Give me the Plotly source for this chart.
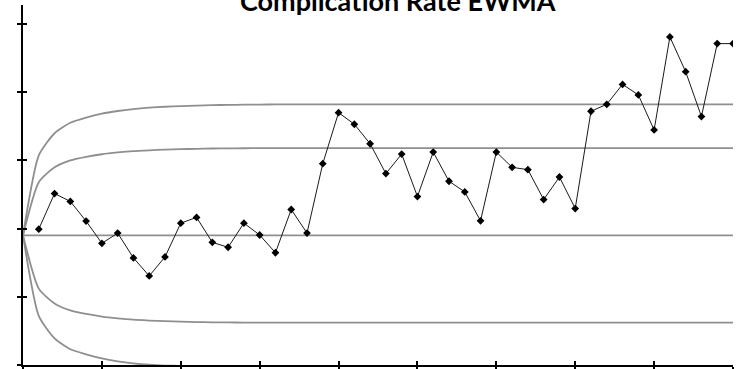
import plotly.graph_objects as go

# Sample index for the EWMA statistic (1..45) and for the control limits (0..45)
samples = list(range(1, 46))
limit_x = list(range(0, 46))

# EWMA of the complication rate (%)
ewma = [9.96, 12.57, 11.99, 10.55, 8.92, 9.67, 7.85, 6.53, 7.92, 10.40,
        10.82, 8.99, 8.63, 10.40, 9.53, 8.23, 11.40, 9.67, 14.76, 18.50,
        17.65, 16.22, 14.03, 15.46, 12.35, 15.61, 13.47, 12.69, 10.57, 15.61,
        14.49, 14.32, 12.13, 13.78, 11.47, 18.60, 19.11, 20.57, 19.80, 17.23,
        24.05, 21.50, 18.21, 23.56, 23.56]

center = [9.5] * 46

# Upper / lower limits (2-sigma and 3-sigma), widening from the start value
ucl3 = [9.50, 15.36, 16.99, 17.76, 18.14, 18.43, 18.62, 18.76, 18.86, 18.93,
        18.98, 19.02, 19.05, 19.07, 19.08, 19.09, 19.10, 19.10, 19.10, 19.10,
        19.10, 19.10, 19.10, 19.10, 19.10, 19.10, 19.10, 19.10, 19.10, 19.10,
        19.10, 19.10, 19.10, 19.10, 19.10, 19.10, 19.10, 19.10, 19.10, 19.10,
        19.10, 19.10, 19.10, 19.10, 19.10, 19.10]
ucl2 = [9.50, 13.40, 14.49, 15.00, 15.26, 15.45, 15.58, 15.68, 15.74, 15.79,
        15.82, 15.85, 15.87, 15.88, 15.89, 15.90, 15.90, 15.90, 15.90, 15.90,
        15.90, 15.90, 15.90, 15.90, 15.90, 15.90, 15.90, 15.90, 15.90, 15.90,
        15.90, 15.90, 15.90, 15.90, 15.90, 15.90, 15.90, 15.90, 15.90, 15.90,
        15.90, 15.90, 15.90, 15.90, 15.90, 15.90]
lcl2 = [9.50, 5.60, 4.51, 4.00, 3.74, 3.55, 3.42, 3.32, 3.26, 3.21,
        3.18, 3.15, 3.13, 3.12, 3.11, 3.10, 3.10, 3.10, 3.10, 3.10,
        3.10, 3.10, 3.10, 3.10, 3.10, 3.10, 3.10, 3.10, 3.10, 3.10,
        3.10, 3.10, 3.10, 3.10, 3.10, 3.10, 3.10, 3.10, 3.10, 3.10,
        3.10, 3.10, 3.10, 3.10, 3.10, 3.10]
lcl3 = [9.50, 3.60, 1.95, 1.15, 0.78, 0.48, 0.27, 0.12, 0.02, -0.04,
        -0.07, -0.09, -0.10, -0.10, -0.10, -0.10, -0.10, -0.10, -0.10, -0.10,
        -0.10, -0.10, -0.10, -0.10, -0.10, -0.10, -0.10, -0.10, -0.10, -0.10,
        -0.10, -0.10, -0.10, -0.10, -0.10, -0.10, -0.10, -0.10, -0.10, -0.10,
        -0.10, -0.10, -0.10, -0.10, -0.10, -0.10]

x_ticks = [0, 5, 10, 15, 20, 25, 30, 35, 40, 45]
y_ticks = [0, 5, 10, 15, 20, 25]
x_range = [0, 45]
y_range = [0, 26.39]

limit_color = "#8f8f8f"

fig = go.Figure()

for vals in (ucl3, ucl2, lcl2, lcl3):
    fig.add_trace(go.Scatter(
        x=limit_x, y=vals, mode="lines",
        line=dict(color=limit_color, width=1.8, shape="spline", smoothing=0.6),
        hoverinfo="skip", showlegend=False))

fig.add_trace(go.Scatter(
    x=limit_x, y=center, mode="lines",
    line=dict(color=limit_color, width=1.8),
    hoverinfo="skip", showlegend=False))

fig.add_trace(go.Scatter(
    x=samples, y=ewma, mode="lines+markers",
    line=dict(color="#1a1a1a", width=1),
    marker=dict(symbol="diamond", size=6, color="#000000"),
    showlegend=False))

# Second pair of axes overlays the first to give ticks that cross the axis lines
fig.add_trace(go.Scatter(x=[None], y=[None], xaxis="x2", yaxis="y2",
                         showlegend=False, hoverinfo="skip"))

axis_common = dict(showgrid=False, zeroline=False, showticklabels=False,
                   showline=True, linecolor="#000000", linewidth=2,
                   ticklen=4, tickwidth=2, tickcolor="#000000",
                   automargin=False)

fig.update_layout(
    width=740, height=369,
    margin=dict(l=23, r=7, t=5, b=4, pad=0, autoexpand=False),
    paper_bgcolor="white", plot_bgcolor="white",
    xaxis=dict(range=x_range, tickmode="array", tickvals=x_ticks,
               ticks="outside", **axis_common),
    yaxis=dict(range=y_range, tickmode="array", tickvals=y_ticks,
               ticks="outside", **axis_common),
    xaxis2=dict(range=x_range, tickmode="array", tickvals=x_ticks,
                ticks="inside", overlaying="x", side="bottom", anchor="y2",
                **axis_common),
    yaxis2=dict(range=y_range, tickmode="array", tickvals=y_ticks,
                ticks="inside", overlaying="y", side="left", anchor="x2",
                **axis_common),
    annotations=[dict(
        text="<b>Complication Rate EWMA</b>", showarrow=False,
        xref="paper", yref="paper", x=0.528, y=0.962,
        xanchor="center", yanchor="bottom",
        font=dict(family="Lato", size=27, color="#000000"))],
)

fig.write_html("out.html", config={"displayModeBar": False})
